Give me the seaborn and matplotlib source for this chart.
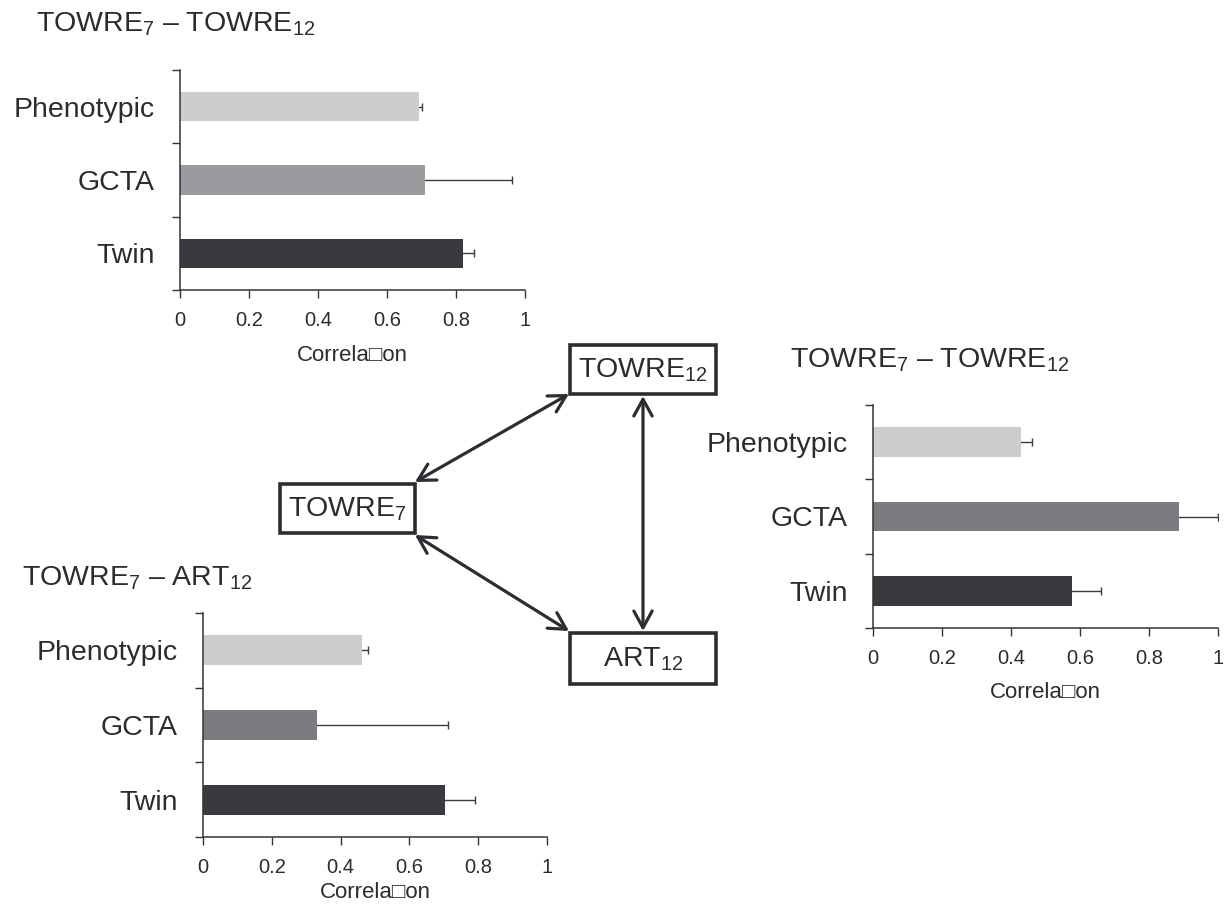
import matplotlib
matplotlib.use("Agg")
import matplotlib.pyplot as plt
import seaborn as sns
import pandas as pd
from matplotlib.patches import Rectangle
from matplotlib.ticker import FixedLocator

sns.set_style("white")
plt.rcParams['font.family'] = ['Liberation Sans', 'DejaVu Sans']
plt.rcParams['mathtext.fontset'] = 'custom'
plt.rcParams['mathtext.rm'] = 'Liberation Sans'
plt.rcParams['mathtext.default'] = 'regular'

TXT = '#2b2c30'

# ---------------- data ----------------
methods = ["Phenotypic", "GCTA", "Twin"]

t7_t12_a_vals = [0.693, 0.709, 0.821]
t7_t12_a_errs = [0.009, 0.253, 0.032]

t7_t12_b_vals = [0.430, 0.888, 0.578]
t7_t12_b_errs = [0.030, 0.112, 0.082]

t7_art12_vals = [0.461, 0.331, 0.703]
t7_art12_errs = [0.020, 0.380, 0.089]

title_a = r"TOWRE$_{7}$ – TOWRE$_{12}$"
title_b = r"TOWRE$_{7}$ – TOWRE$_{12}$"
title_c = r"TOWRE$_{7}$ – ART$_{12}$"

xticks = [0, 0.2, 0.4, 0.6, 0.8, 1]
xtick_labels = ["0", "0.2", "0.4", "0.6", "0.8", "1"]
xlabel = "Correla\u25a1on"

colors_a = ["#cdcdcf", "#9a9b9e", "#383a3e"]
colors_bc = ["#cdcdcf", "#7b7c80", "#383a3e"]

nodes = {
    "t12": (r"TOWRE$_{12}$", 570, 345, 146, 49),
    "t7": (r"TOWRE$_{7}$", 280, 484, 135, 49),
    "art": (r"ART$_{12}$", 570, 633, 146, 51),
}

W, H = 1231, 910
fig = plt.figure(figsize=(W / 100, H / 100), dpi=100)


def px_axes(x0, x1, ytop, ybot):
    return fig.add_axes([x0 / W, 1 - ybot / H, (x1 - x0) / W, (ybot - ytop) / H])


def bar_panel(ax, vals, errs, colors, title, title_xy, labelpad):
    df = pd.DataFrame({"method": methods, "value": vals})
    sns.barplot(data=df, x="value", y="method", hue="method", palette=colors,
                order=methods, hue_order=methods, width=0.4, legend=False,
                ax=ax, saturation=1, edgecolor='none', zorder=2)
    ax.errorbar(vals, range(len(methods)), xerr=errs,
                fmt='none', ecolor='#3a3b3f', elinewidth=1.0, capsize=2.8,
                capthick=1.0, zorder=1)
    ax.set_xlim(0, 1)
    ax.set_ylim(2.5, -0.5)
    for s in ["top", "right"]:
        ax.spines[s].set_visible(False)
    for s in ["left", "bottom"]:
        ax.spines[s].set_color('#333438')
        ax.spines[s].set_linewidth(1.1)
        ax.spines[s].set_zorder(3)
    ax.set_xticks(xticks)
    ax.set_xticklabels(xtick_labels, fontsize=14.5, color=TXT)
    ax.tick_params(axis='x', direction='out', length=6, width=1.0,
                   color='#333438', pad=9, bottom=True)
    ax.yaxis.set_minor_locator(FixedLocator([-0.5, 0.5, 1.5, 2.5]))
    ax.tick_params(axis='y', which='minor', direction='out', length=6,
                   width=1.0, color='#333438', left=True)
    ax.tick_params(axis='y', which='major', length=0, pad=18,
                   labelsize=20.5, labelcolor=TXT)
    ax.set_ylabel("")
    ax.set_xlabel(xlabel, fontsize=16, color=TXT, labelpad=labelpad)
    fig.text(title_xy[0] / W, 1 - title_xy[1] / H, title, fontsize=20.5,
             color=TXT, ha='left', va='top')


ax1 = px_axes(180, 525, 70, 290)
bar_panel(ax1, t7_t12_a_vals, t7_t12_a_errs, colors_a, title_a, (36, 10), 11)

ax2 = px_axes(873, 1218, 405, 628)
bar_panel(ax2, t7_t12_b_vals, t7_t12_b_errs, colors_bc, title_b, (790, 347), 10)

ax3 = px_axes(203, 547, 613, 837)
bar_panel(ax3, t7_art12_vals, t7_art12_errs, colors_bc, title_c, (22, 564), 4)

# ---------------- diagram overlay ----------------
ov = fig.add_axes([0, 0, 1, 1])
ov.set_xlim(0, W)
ov.set_ylim(H, 0)
ov.axis('off')
ov.patch.set_alpha(0)

for key, (lab, x, y, w, h) in nodes.items():
    ov.add_patch(Rectangle((x, y), w, h, fill=False, edgecolor='#2b2d31',
                           linewidth=2.6))
    ov.text(x + w / 2, y + h / 2 + 1, lab, fontsize=20.5, color=TXT,
            ha='center', va='center')

arrow_kw = dict(arrowstyle='<->,head_length=0.6,head_width=0.33',
                color='#2b2d31', lw=2.3, mutation_scale=20,
                shrinkA=0, shrinkB=0)
ov.annotate("", xy=(415, 482), xytext=(569, 394), arrowprops=arrow_kw)
ov.annotate("", xy=(415, 535), xytext=(569, 631), arrowprops=arrow_kw)
ov.annotate("", xy=(643, 396), xytext=(643, 631), arrowprops=arrow_kw)

fig.savefig("out.png", dpi=100)
